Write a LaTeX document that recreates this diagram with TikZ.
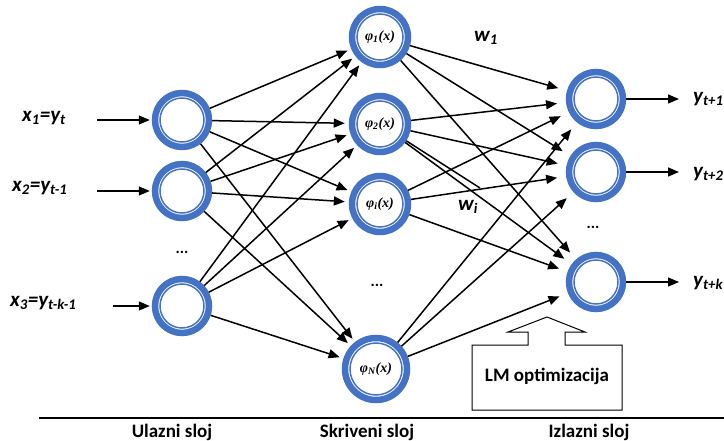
\documentclass[tikz,border=0pt]{standalone}
\usepackage{fontspec}
\setmainfont{Carlito}
\newfontfamily\phifont{Liberation Serif}
\usetikzlibrary{arrows.meta}
\definecolor{nblue}{HTML}{4472C4}
\begin{document}
\begin{tikzpicture}[x=1pt,y=-1pt,
  neuron/.style={circle, draw=nblue, line width=6.5pt, minimum size=#1, inner sep=0pt, fill=white,
    path picture={\draw[nblue, line width=1.5pt] (path picture bounding box.center) circle ({#1/2-5pt});}},
  neuron/.default=54pt,
  tip/.style={-{Triangle[length=11pt,width=9pt]}},
  conn/.style={line width=1.5pt, tip, shorten >=4pt},
  connout/.style={line width=1.5pt, tip, shorten >=9pt},
  ioarrow/.style={line width=1.5pt, tip, shorten >=2pt},
  lab/.style={font=\fontsize{21}{22}\selectfont\bfseries\itshape, inner sep=0pt},
  philab/.style={font=\phifont\fontsize{14}{14}\selectfont\bfseries\itshape},
  dots/.style={font=\fontsize{16}{16}\selectfont\bfseries, inner sep=0pt},
  layer/.style={font=\fontsize{19}{20}\selectfont\bfseries, anchor=base, inner sep=0pt}
]
\useasboundingbox (0,0) rectangle (724,441);

% input layer
\node[neuron] (in1) at (182,120) {};
\node[neuron] (in2) at (182,191) {};
\node[neuron] (in3) at (182,306) {};
\node[dots] (d1) at (182,252) {...};

% hidden layer
\node[neuron=56pt, philab] (h1) at (380,37) {φ\textsubscript{1}(x)};
\node[neuron=56pt, philab] (h2) at (380,124) {φ\textsubscript{2}(x)};
\node[neuron=56pt, philab] (hi) at (380,204) {φ\textsubscript{i}(x)};
\node[neuron=62pt, philab] (hN) at (376,369) {φ\textsubscript{N}(x)};
\node[dots] (d2) at (377,285) {...};

% output layer
\node[neuron] (o1) at (596,99) {};
\node[neuron] (o2) at (596,172) {};
\node[neuron] (o3) at (596,282) {};
\node[dots] (d3) at (593,227) {...};

% input labels and arrows
\node[lab, anchor=west] (x1) at (22,118) {x\textsubscript{1}=y\textsubscript{t}};
\node[lab, anchor=west] (x2) at (12,188) {x\textsubscript{2}=y\textsubscript{t-1}};
\node[lab, anchor=west] (x3) at (10,303) {x\textsubscript{3}=y\textsubscript{t-k-1}};
\coordinate (a1) at (97,120);
\coordinate (a2) at (97,191);
\coordinate (a3) at (113,306);
\draw[ioarrow] (a1) -- (in1);
\draw[ioarrow] (a2) -- (in2);
\draw[ioarrow] (a3) -- (in3);

% input -> hidden
\foreach \i in {in1,in2,in3}
  \foreach \h in {h1,h2,hi,hN}
    \draw[conn] (\i) -- (\h);

% hidden -> output
\foreach \h in {h1,h2,hi,hN}
  \foreach \o in {o1,o2,o3}
    \draw[connout] (\h) -- (\o);
\coordinate (wend) at (480,188);
\draw[line width=1.5pt] (h2) -- (wend);

% weights
\node[lab] (w1) at (486,38) {w\textsubscript{1}};
\node[lab] (wi) at (468,207) {w\textsubscript{i}};

% output arrows and labels
\coordinate (b1) at (681,99);
\coordinate (b2) at (681,172);
\coordinate (b3) at (681,282);
\draw[ioarrow] (o1) -- (b1);
\draw[ioarrow] (o2) -- (b2);
\draw[ioarrow] (o3) -- (b3);
\node[lab, anchor=west] (y1) at (693,99) {y\textsubscript{t+1}};
\node[lab, anchor=west] (y2) at (693,174) {y\textsubscript{t+2}};
\node[lab, anchor=west] (y3) at (693,283) {y\textsubscript{t+k}};

% LM optimization callout
\draw[line width=1pt, fill=white] (472,345) -- (528,345) -- (528,332) -- (508,332) -- (547,317)
  -- (585,332) -- (565,332) -- (565,345) -- (622,345) -- (622,410) -- (472,410) -- cycle;
\node[font=\fontsize{19}{20}\selectfont\bfseries] (lm) at (547,376) {LM optimizacija};

% bottom rule and layer names
\coordinate (r1) at (39,418);
\coordinate (r2) at (724,418);
\draw[line width=1.5pt] (r1) -- (r2);
\node[layer] (l1) at (172,437) {Ulazni sloj};
\node[layer] (l2) at (367,437) {Skriveni sloj};
\node[layer] (l3) at (589,437) {Izlazni sloj};
\end{tikzpicture}
\end{document}
